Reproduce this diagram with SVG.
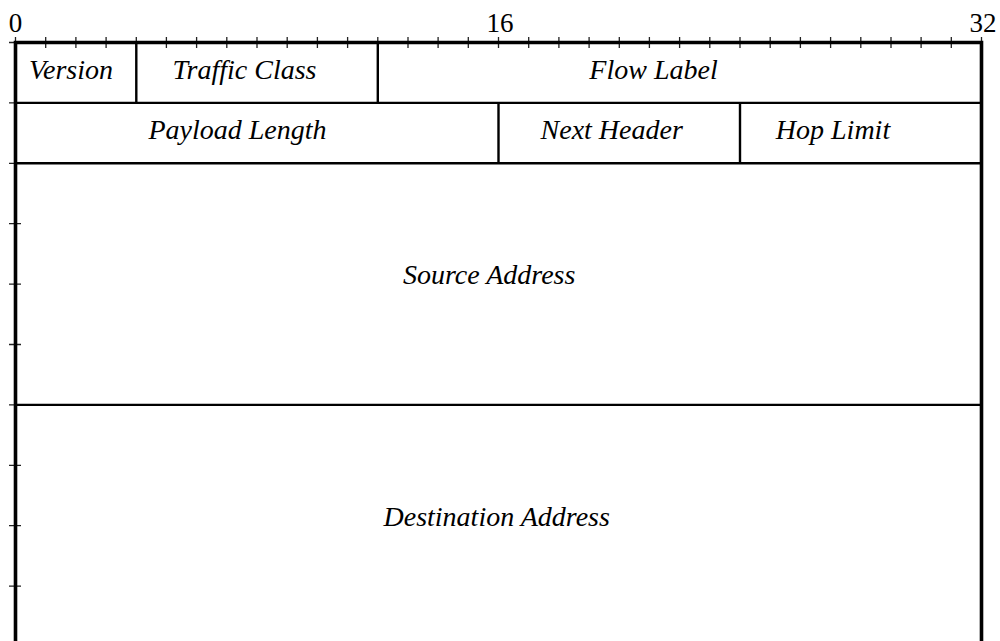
<svg xmlns="http://www.w3.org/2000/svg" width="1000" height="641" viewBox="0 0 1000 641">
  <style>
    .lbl { font-family: "Liberation Serif", "Times New Roman", serif; font-style: italic; font-size: 28px; fill: #000; text-anchor: middle; }
    .num { font-family: "Liberation Serif", "Times New Roman", serif; font-size: 27px; fill: #000; text-anchor: middle; }
    .tick { stroke: #222; stroke-width: 1.3; }
    .edge { stroke: #000; stroke-width: 2.4; fill: none; }
    .frame { stroke: #000; stroke-width: 3.6; fill: none; }
  </style>

  <rect width="1000" height="641" fill="#fff"/>

  <!-- bit ruler: one tick per bit along the top, one per 32-bit word down the left -->
  <g id="ruler">
    <text class="num" x="15.5" y="31.5">0</text>
    <text class="num" x="500" y="31.5">16</text>
    <text class="num" x="983" y="31.5">32</text>
    <g class="tick">
      <path d="M15.5 37v11M45.7 37v11M75.9 37v11M106.1 37v11M136.3 37v11M166.4 37v11M196.6 37v11M226.8 37v11
               M257 37v11M287.2 37v11M317.4 37v11M347.6 37v11M377.8 37v11M408 37v11M438.1 37v11M468.3 37v11
               M498.5 37v11M528.7 37v11M558.9 37v11M589.1 37v11M619.3 37v11M649.4 37v11M679.6 37v11M709.8 37v11
               M740 37v11M770.2 37v11M800.4 37v11M830.6 37v11M860.8 37v11M891 37v11M921.1 37v11M951.3 37v11M981.5 37v11"/>
      <path d="M9 42.5h12M9 102.9h12M9 163.3h12M9 223.7h12M9 284.1h12M9 344.5h12M9 404.9h12M9 465.3h12M9 525.7h12M9 586.1h12"/>
    </g>
  </g>

  <!-- field boundaries -->
  <g id="connectors">
    <path class="edge" d="M15.5 102.9H981.5M15.5 163.3H981.5M15.5 404.9H981.5"/>
    <path class="edge" d="M136.3 42.5V102.9M377.8 42.5V102.9M498.5 102.9V163.3M740 102.9V163.3"/>
    <path class="frame" d="M15.5 660V42.5H981.5V660"/>
  </g>

  <g id="version"><text class="lbl" x="71" y="78.5">Version</text></g>
  <g id="traffic-class"><text class="lbl" x="244.5" y="78.5">Traffic Class</text></g>
  <g id="flow-label"><text class="lbl" x="653.5" y="78.5">Flow Label</text></g>
  <g id="payload-length"><text class="lbl" x="237.5" y="139.3">Payload Length</text></g>
  <g id="next-header"><text class="lbl" x="611.7" y="139.3">Next Header</text></g>
  <g id="hop-limit"><text class="lbl" x="833" y="138.8">Hop Limit</text></g>
  <g id="source-address"><text class="lbl" x="489.2" y="284.3">Source Address</text></g>
  <g id="destination-address"><text class="lbl" x="496.7" y="525.5">Destination Address</text></g>
</svg>
